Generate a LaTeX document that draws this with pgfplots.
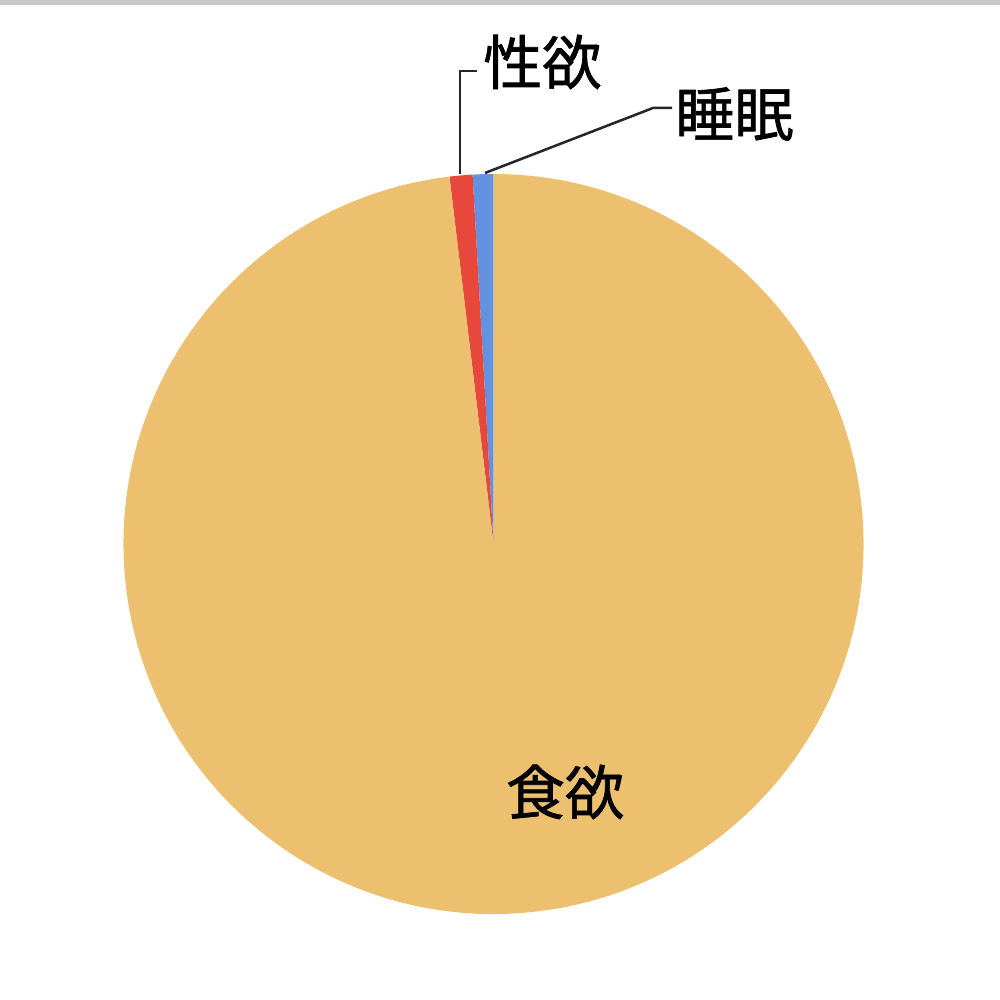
\documentclass[border=0pt]{standalone}
\usepackage{pgfplots}
\pgfplotsset{compat=1.18}
\usepackage{fontspec}
\newfontfamily\cjk[BoldFont={Noto Sans CJK JP}, BoldFeatures={FakeBold=1.1}]{Noto Sans CJK JP}

\definecolor{cfood}{RGB}{236,192,110}
\definecolor{csex}{RGB}{232,72,60}
\definecolor{csleep}{RGB}{98,146,224}
\definecolor{cframe}{RGB}{200,200,200}

% shares in percent
\def\vSleep{0.9}
\def\vSex{1.0}
\def\vFood{98.1}

\begin{document}
\begin{tikzpicture}
\begin{axis}[
	x=0.25mm, y=0.25mm,
	xmin=0, xmax=1000, ymin=0, ymax=1000,
	hide axis, clip=false]
% frame of the picture
\path (axis cs:0,0) rectangle (axis cs:1000,1000);
\fill[cframe] (axis cs:0,995) rectangle (axis cs:1000,1000);
% slices, clockwise from 12 o'clock going left
\pgfmathsetmacro\aA{90}
\pgfmathsetmacro\aB{90+3.6*\vSleep}
\pgfmathsetmacro\aC{\aB+3.6*\vSex}
\pgfmathsetmacro\aD{\aC+3.6*\vFood}
\fill[csleep] (axis cs:493.5,456) -- (axis cs:{493.5+370*cos(\aA)},{456+370*sin(\aA)})
	arc[start angle=\aA, end angle=\aB, radius=92.5mm] -- cycle;
\fill[csex] (axis cs:493.5,456) -- (axis cs:{493.5+370*cos(\aB)},{456+370*sin(\aB)})
	arc[start angle=\aB, end angle=\aC, radius=92.5mm] -- cycle;
\fill[cfood] (axis cs:493.5,456) -- (axis cs:{493.5+370*cos(\aC)},{456+370*sin(\aC)})
	arc[start angle=\aC, end angle=\aD, radius=92.5mm] -- cycle;
% labels
\draw[line width=1.8pt, black!85] (axis cs:460,826) -- (axis cs:460,929) -- (axis cs:477,929);
\draw[line width=1.8pt, black!85] (axis cs:485,827) -- (axis cs:653,892) -- (axis cs:672,892);
\node[anchor=west, inner sep=0pt, font=\cjk\fontsize{42}{42}\selectfont\bfseries] at (axis cs:483,938) {性欲};
\node[anchor=west, inner sep=0pt, font=\cjk\fontsize{42}{42}\selectfont\bfseries] at (axis cs:675,886) {睡眠};
\node[inner sep=0pt, font=\cjk\fontsize{42}{42}\selectfont\bfseries] at (axis cs:565,208) {食欲};
\end{axis}
\end{tikzpicture}
\end{document}
